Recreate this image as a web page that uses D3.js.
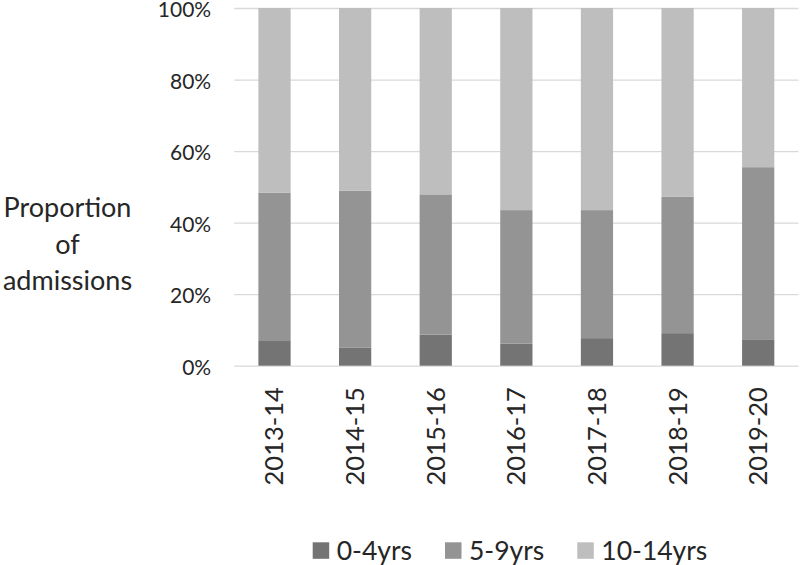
<!DOCTYPE html>
<html>
<head>
<meta charset="utf-8">
<script src="https://cdn.jsdelivr.net/npm/d3@7"></script>
<style>
  html, body { margin: 0; padding: 0; background: #fff; }
  svg { display: block; font-family: "Lato", "Open Sans", sans-serif; }
</style>
</head>
<body>
<svg id="chart" width="800" height="565"></svg>
<script>
// ---- data ----
const categories = ["2013-14", "2014-15", "2015-16", "2016-17", "2017-18", "2018-19", "2019-20"];
const seriesNames = ["0-4yrs", "5-9yrs", "10-14yrs"];
const age0to4   = [6.9, 5.0, 8.7, 6.2, 7.7, 9.1, 7.2];
const age5to9   = [41.5, 43.9, 39.2, 37.3, 35.8, 38.1, 48.3];
const age10to14 = [51.6, 51.1, 52.1, 56.5, 56.5, 52.8, 44.5];
const yTicks = [0, 20, 40, 60, 80, 100];
const yLabelLines = ["Proportion", "of", "admissions"];

const colors = ["#747474", "#949494", "#bebebe"];
const textColor = "#262626";

const rows = categories.map((c, i) => ({
  cat: c, "0-4yrs": age0to4[i], "5-9yrs": age5to9[i], "10-14yrs": age10to14[i]
}));

const svg = d3.select("#chart");
const plotLeft = 234.2, plotRight = 798.5, plotTop = 8, plotBottom = 365.7;

const x = d3.scaleBand().domain(categories).range([plotLeft, plotRight]).paddingInner(0.6).paddingOuter(0.3);
const y = d3.scaleLinear().domain([0, 100]).range([plotBottom, plotTop]);

// gridlines + y tick labels
const yAxis = svg.append("g")
  .attr("transform", `translate(${plotLeft},0)`)
  .call(d3.axisLeft(y).tickValues(yTicks).tickFormat(d => d + "%")
        .tickSize(-(plotRight - plotLeft)).tickPadding(23));
yAxis.select(".domain").remove();
yAxis.selectAll(".tick line").attr("stroke", "#d9d9d9").attr("stroke-width", 1.3);
yAxis.selectAll(".tick text").attr("fill", textColor).style("font-size", "21px")
  .attr("dy", "0.42em")
  .attr("font-family", "Lato, 'Open Sans', sans-serif");

// stacked bars
const stack = d3.stack().keys(seriesNames)(rows);
svg.append("g").selectAll("g").data(stack).join("g")
  .attr("fill", (d, i) => colors[i])
  .selectAll("rect").data(d => d).join("rect")
  .attr("x", d => x(d.data.cat))
  .attr("width", x.bandwidth())
  .attr("y", d => y(d[1]))
  .attr("height", d => y(d[0]) - y(d[1]));

// x axis labels
const xAxis = svg.append("g")
  .attr("transform", `translate(0,${plotBottom})`)
  .call(d3.axisBottom(x).tickSize(0));
xAxis.select(".domain").remove();
xAxis.selectAll(".tick text")
  .attr("transform", "rotate(-90)")
  .attr("text-anchor", "end")
  .attr("x", -21.5)
  .attr("y", 0)
  .attr("dy", "0.35em")
  .attr("fill", textColor)
  .style("font-size", "25.5px")
  .attr("font-family", "Lato, 'Open Sans', sans-serif");

// y title
svg.append("text")
  .attr("text-anchor", "middle")
  .attr("fill", textColor)
  .style("font-size", "27px")
  .selectAll("tspan").data(yLabelLines).join("tspan")
  .attr("x", 67.5)
  .attr("y", (d, i) => 217 + i * 36.5)
  .text(d => d);

// legend
const legend = svg.append("g").attr("transform", "translate(312.7,542.3)");
let lx = 0;
seriesNames.forEach((name, i) => {
  const g = legend.append("g").attr("transform", `translate(${lx},0)`);
  g.append("rect").attr("width", 16.5).attr("height", 16.5).attr("fill", colors[i]);
  const t = g.append("text").attr("x", 24).attr("y", 8.3).attr("dy", "0.35em")
    .attr("fill", textColor).style("font-size", "26.5px").text(name);
  lx += 24 + t.node().getComputedTextLength() + 33;
});
</script>
</body>
</html>
